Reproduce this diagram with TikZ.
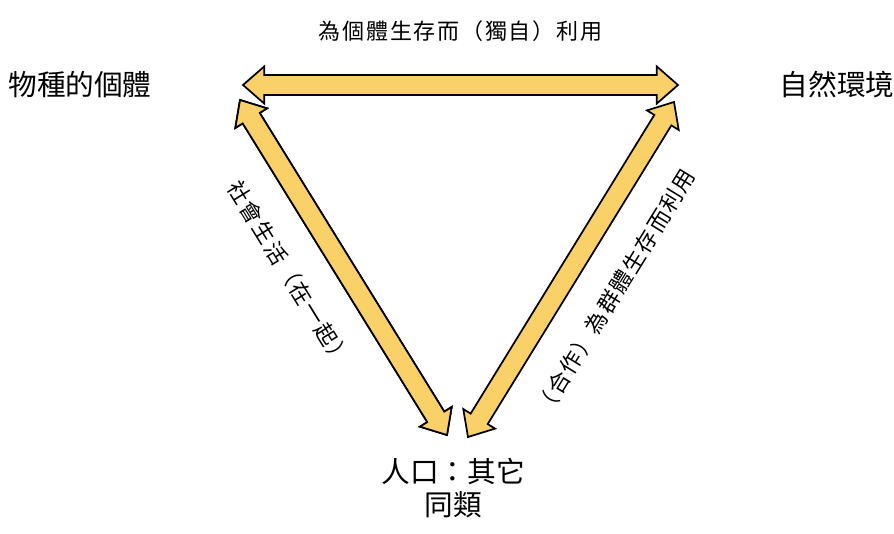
\documentclass[tikz,border=0pt]{standalone}
\usepackage{fontspec}
\newfontfamily\cjk{Noto Sans CJK TC}
\newfontfamily\cjkwide{Noto Sans CJK TC}[LetterSpace=8]
\usetikzlibrary{calc}
\definecolor{arrowyellow}{RGB}{250,208,105}

\newcommand{\bigarrow}[3][]{%
  \filldraw[fatarrow,#1] (#2)
    -- ($(#2)!16pt!(#3)!14pt!90:(#3)$)
    -- ($(#2)!16pt!(#3)!7.5pt!90:(#3)$)
    -- ($(#3)!16pt!(#2)!7.5pt!-90:(#2)$)
    -- ($(#3)!16pt!(#2)!14pt!-90:(#2)$)
    -- (#3)
    -- ($(#3)!16pt!(#2)!14pt!90:(#2)$)
    -- ($(#3)!16pt!(#2)!7.5pt!90:(#2)$)
    -- ($(#2)!16pt!(#3)!7.5pt!-90:(#3)$)
    -- ($(#2)!16pt!(#3)!14pt!-90:(#3)$)
    -- cycle;}

\begin{document}
\begin{tikzpicture}[
    x=0.75pt, y=-0.75pt,
    fatarrow/.style={draw=black, fill=arrowyellow, line width=1.3pt, line join=miter},
    corner/.style={font=\cjk\fontsize{21.5pt}{25pt}\selectfont, align=center, inner sep=0pt},
    edgelabel/.style={font=\cjkwide\fontsize{16.5pt}{20pt}\selectfont, inner sep=0pt}
]
    \useasboundingbox (0,0) rectangle (894,533);

    \node[corner] (indiv) at (80,85) {物種的個體};
    \node[corner] (nature) at (837,85) {自然環境};
    \node[corner] (people) at (453,488) {人口：其它\\同類};

    \coordinate (topl) at (243,85);
    \coordinate (topr) at (678,85);
    \coordinate (leftt) at (240,100);
    \coordinate (leftb) at (447,435);
    \coordinate (rightt) at (674,102);
    \coordinate (rightb) at (468,437);

    \bigarrow[fill=black!45, xshift=2.5pt]{leftt}{leftb}
    \bigarrow{leftt}{leftb}
    \bigarrow{rightb}{rightt}
    \bigarrow{topl}{topr}

    \path (topl) -- (topr) node[edgelabel, midway, above=32pt] {為個體生存而（獨自）利用};
    \path (leftt) -- (leftb) node[edgelabel, pos=0.44, sloped, below=29pt] {社會生活（在一起）};
    \path (rightb) -- (rightt) node[edgelabel, pos=0.51, sloped, below=29pt] {（合作）為群體生存而利用};
\end{tikzpicture}
\end{document}
